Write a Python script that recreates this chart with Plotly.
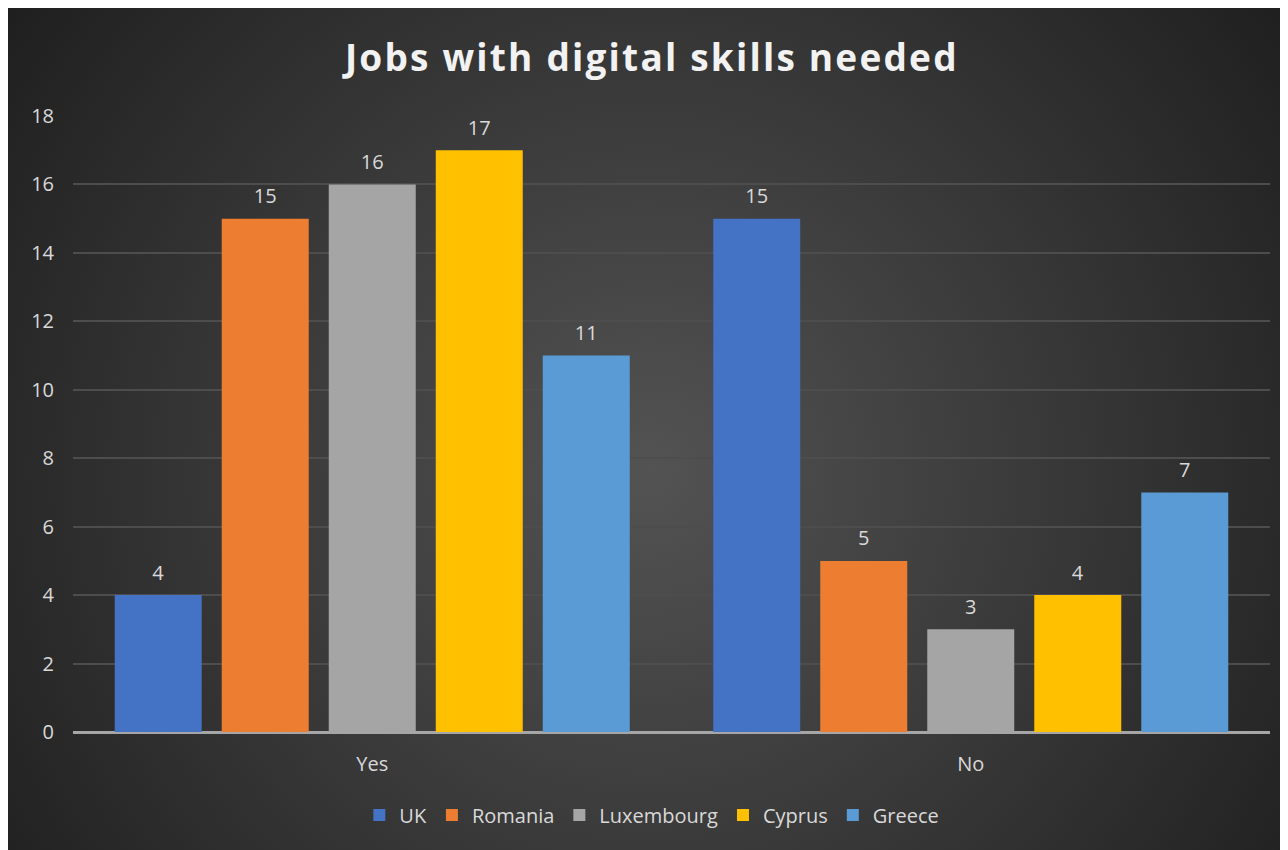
import plotly.graph_objects as go
import base64

categories = ["Yes", "No"]
series_names = ["UK", "Romania", "Luxembourg", "Cyprus", "Greece"]
uk = [4, 15]
romania = [15, 5]
luxembourg = [16, 3]
cyprus = [17, 4]
greece = [11, 7]
series_values = [uk, romania, luxembourg, cyprus, greece]
colors = ["#4472C4", "#ED7D31", "#A5A5A5", "#FFC000", "#5B9BD5"]
y_ticks = [0, 2, 4, 6, 8, 10, 12, 14, 16, 18]

W, H = 1280, 842
ML, MR, MT, MB = 65, 18, 108, 118

svg = f'''<svg xmlns="http://www.w3.org/2000/svg" width="{W}" height="{H}" viewBox="0 0 {W} {H}">
<defs><radialGradient id="g" gradientUnits="userSpaceOnUse" cx="{W/2}" cy="{H*0.55}" r="{((W/2)**2+(H*0.55)**2)**0.5}">
<stop offset="0" stop-color="#535353"/><stop offset="1" stop-color="#1f1f1f"/></radialGradient></defs>
<rect x="0" y="0" width="{W}" height="{H}" fill="url(#g)"/></svg>'''
src = "data:image/svg+xml;base64," + base64.b64encode(svg.encode()).decode()

FONT = "Open Sans, Lato, sans-serif"

fig = go.Figure()
for name, vals, col in zip(series_names, series_values, colors):
    fig.add_trace(go.Bar(
        name=name, x=categories, y=vals,
        marker=dict(color=col, line=dict(width=0)),
        text=vals, textposition="outside", cliponaxis=False,
        texttemplate="<span style='font-size:20px'>%{y}</span><br><span style='color:rgba(0,0,0,0)'>.</span>",
        textfont=dict(family=FONT, size=8, color="#d9d9d9"),
    ))

pw = W - ML - MR
ph = H - MT - MB
fig.add_layout_image(dict(
    source=src, xref="paper", yref="paper",
    x=-ML / pw, y=1 + MT / ph, sizex=W / pw, sizey=H / ph,
    xanchor="left", yanchor="top", sizing="stretch", layer="below",
))

fig.update_layout(
    width=W, height=H,
    margin=dict(l=ML, r=MR, t=MT, b=MB),
    paper_bgcolor="#262626", plot_bgcolor="rgba(0,0,0,0)",
    barmode="group", bargap=0.106, bargroupgap=0.187,
    title=dict(text="<b><span style='letter-spacing:2.2px'>Jobs with digital skills needed</span></b>",
               x=0.503, xanchor="center", y=1 - 50 / H, yanchor="middle",
               font=dict(family=FONT, size=37, color="#f2f2f2")),
    font=dict(family=FONT, color="#d9d9d9", size=20),
    legend=dict(orientation="h", xref="container", yref="container",
                x=0.503, xanchor="center", y=1 - 807 / H, yanchor="middle",
                font=dict(size=20, color="#d9d9d9"), itemwidth=30,
                bgcolor="rgba(0,0,0,0)"),
    xaxis=dict(showgrid=False, ticks="", showline=False, zeroline=False,
               tickfont=dict(size=20, color="#d9d9d9"), ticklabelstandoff=18),
    yaxis=dict(range=[0, 18], tickvals=y_ticks, showgrid=True, gridcolor="#4d4d4d",
               gridwidth=1.5, zeroline=True, zerolinecolor="#a6a6a6", zerolinewidth=3,
               ticks="", showline=False, tickfont=dict(size=20, color="#d9d9d9"),
               ticklabelstandoff=18),
)

fig.write_html("out.html")
